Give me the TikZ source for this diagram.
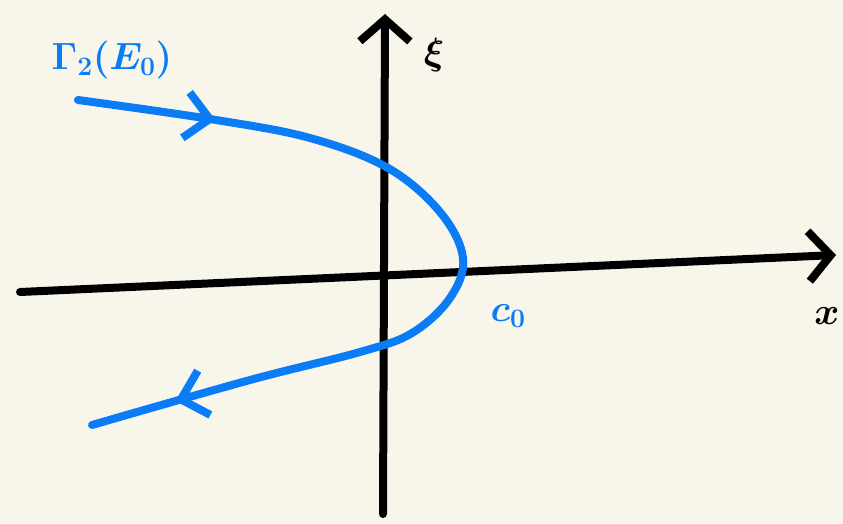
\RequirePackage{fix-cm}
\documentclass[tikz,border=0pt]{standalone}
\usepackage{amsmath,amssymb}
\usepackage{tikz}
\usetikzlibrary{arrows.meta,decorations.markings}
\definecolor{paper}{HTML}{F8F6EB}
\definecolor{penblue}{HTML}{0A7CF5}
\newcommand{\hand}{\fontsize{38}{44}\selectfont\boldmath}

\begin{document}
\begin{tikzpicture}[x=1pt,y=-1pt,line width=8pt,line cap=round,line join=round]
        \tikzstyle{axis} = [black, -{Straight Barb[length=22pt,width=50pt,line width=8pt]}]
        \tikzstyle{path} = [penblue, postaction={decorate}, decoration={markings,
            mark=at position 0.16 with {\arrow{Straight Barb[length=24pt,width=46pt,line width=8pt]}},
            mark=at position 0.90 with {\arrow{Straight Barb[length=24pt,width=46pt,line width=8pt]}}}]
        \tikzstyle{lbl} = [inner sep=0pt, font=\hand]

        % Background
        \fill[paper] (0,0) rectangle (843,523);
        \useasboundingbox (0,0) rectangle (843,523);

        % Nodes
        \coordinate (zb) at (383,514);
        \coordinate (zt) at (385,14);
        \coordinate (xl) at (20,292);
        \coordinate (xr) at (836,255);
        \coordinate (g0) at (78,100);
        \coordinate (g1) at (210,119);
        \coordinate (g2) at (310,138);
        \coordinate (g3) at (388,168);
        \coordinate (g4) at (440,212);
        \coordinate (g5) at (463,258);
        \coordinate (g6) at (450,298);
        \coordinate (g7) at (412,333);
        \coordinate (g8) at (360,352);
        \coordinate (g9) at (250,380);
        \coordinate (g10) at (92,425);
        \node[lbl, penblue] (gam) at (112,60) {$\Gamma_2(E_0)$};
        \node[lbl] (xi) at (434,55) {$\xi$};
        \node[lbl] (xx) at (827,316) {$x$};
        \node[lbl, penblue] (c0) at (508,316) {$c_0$};

        % Edges
        \draw[axis] (zb) -- (zt);
        \draw[axis] (xl) -- (xr);
        \draw[path] plot[smooth, tension=0.6] coordinates {(g0) (g1) (g2) (g3) (g4) (g5) (g6) (g7) (g8) (g9) (g10)};
    \end{tikzpicture}
\end{document}
